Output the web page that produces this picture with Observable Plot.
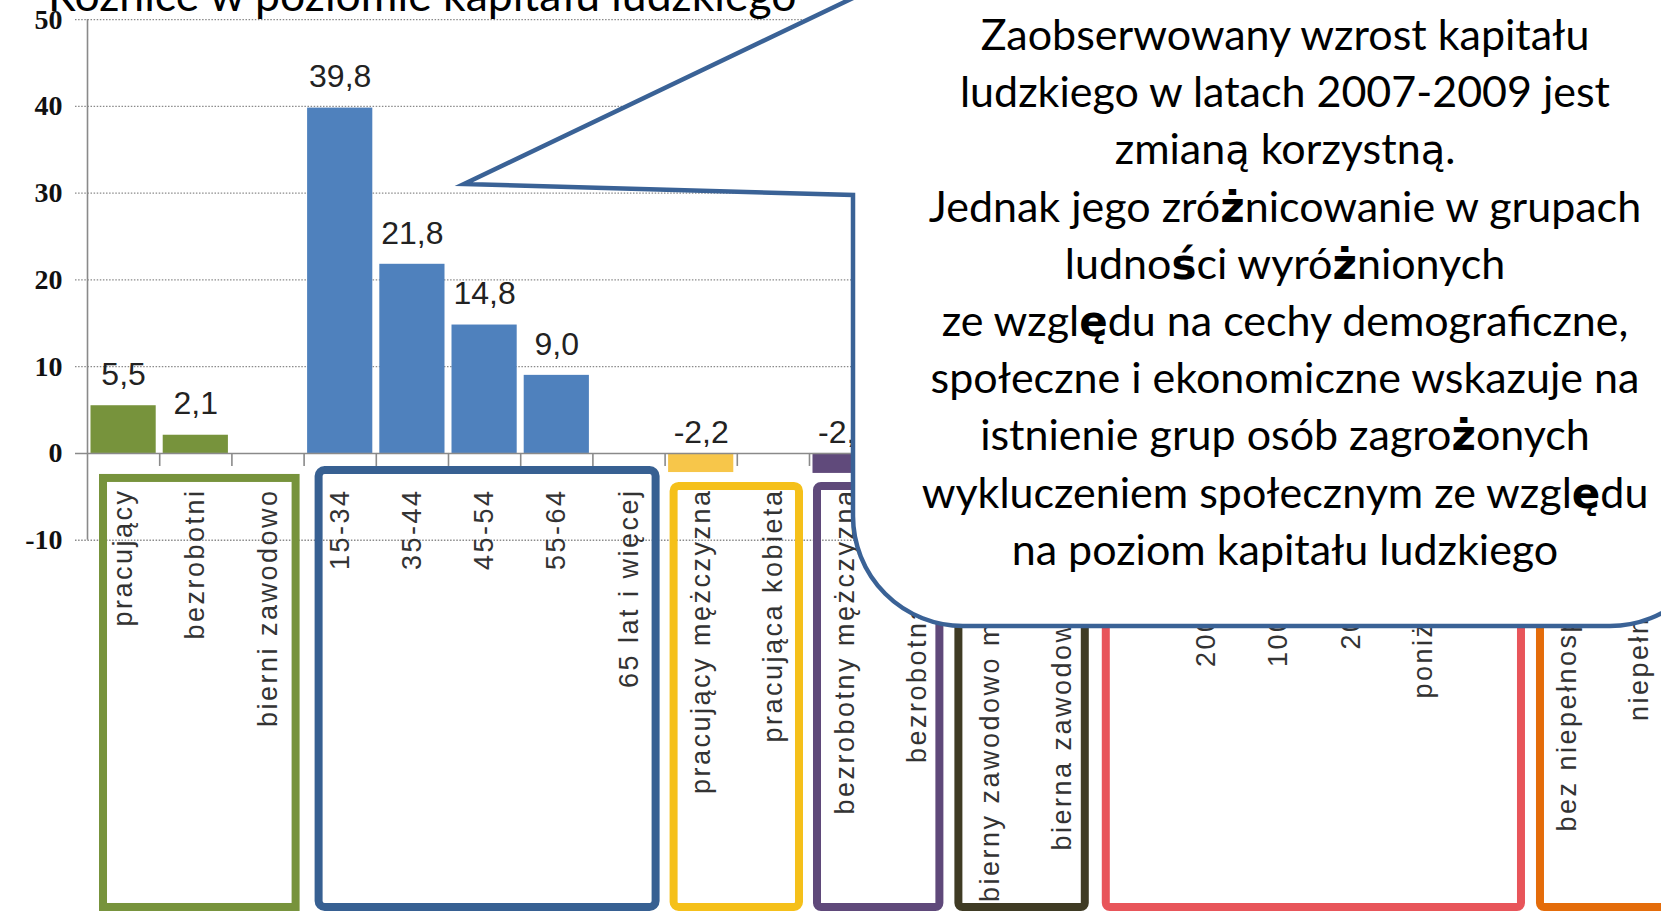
<!DOCTYPE html>
<html><head><meta charset="utf-8">
<script src="https://cdn.jsdelivr.net/npm/d3@7"></script>
<script src="https://cdn.jsdelivr.net/npm/@observablehq/plot@0.6"></script>
<style>
html,body{margin:0;padding:0;background:#fff;overflow:hidden;}
#wrap{position:relative;width:1661px;height:912px;overflow:hidden;background:#fff;}
#wrap svg.overlay{position:absolute;left:0;top:0;}
</style></head><body><div id="wrap"></div>
<script>
// ---------- data ----------
const categories = [
  "pracujący", "bezrobotni", "bierni zawodowo",
  "15-34", "35-44", "45-54", "55-64", "65 lat i więcej",
  "pracujący mężczyzna", "pracująca kobieta",
  "bezrobotny mężczyzna", "bezrobotna kobieta",
  "bierny zawodowo mężczyzna", "bierna zawodowo kobieta",
  ">500 tys.", "200-500 tys.", "100-200 tys.", "20-100 tys.", "poniżej 20 tys.", "wieś",
  "bez niepełnosprawności", "niepełnosprawni"
];
const values = [5.5, 2.1, null, 39.8, 21.8, 14.8, 9.0, null, -2.2, null, -2.3,
  null, null, null, null, null, null, null, null, null, null, null];
const groupNames = ["status", "wiek", "pracujący wg płci", "bezrobotni wg płci", "bierni wg płci", "miejscowość", "niepełnosprawność"];
const groupFirst = [0, 3, 8, 10, 12, 14, 20];
const groupLast  = [2, 7, 9, 11, 13, 19, 21];
const yTicks = [-10, 0, 10, 20, 30, 40, 50];
const title = "Różnice w poziomie kapitału ludzkiego";
const calloutLines = [
  "Zaobserwowany wzrost kapitału",
  "ludzkiego w latach 2007-2009 jest",
  "zmianą korzystną.",
  "Jednak jego zróżnicowanie w grupach",
  "ludności wyróżnionych",
  "ze względu na cechy demograficzne,",
  "społeczne i ekonomiczne wskazuje na",
  "istnienie grup osób zagrożonych",
  "wykluczeniem społecznym ze względu",
  "na poziom kapitału ludzkiego"
];

// ---------- styles ----------
const barColors = ["#77933c", "#4f81bd", "#f7c64a", "#604a7b", "#494429", "#e8555a", "#e46c0a"];
const boxColors = ["#77933c", "#376092", "#f5c01a", "#5f497a", "#3f3b24", "#e8555a", "#e46c0a"];
const boxInsets = [
  {l: 16, r: 8, t: 25, rx: 0},
  {l: 15, r: 9, t: 17, rx: 6},
  {l: 9, r: 10, t: 33, rx: 5},
  {l: 8, r: 14, t: 33, rx: 4},
  {l: 5, r: 13, t: 33, rx: 4},
  {l: 8, r: 10, t: 33, rx: 4},
  {l: 9, r: -40, t: 33, rx: 4}
];
const BAND = 72.2, TICK = 12, MARGIN_LEFT = 75;
const Y_DOMAIN = [-52.9, 52.2];

const groupOf = categories.map((c, i) => groupFirst.findIndex((f, k) => i >= f && i <= groupLast[k]));
const data = categories.map((name, i) => ({i, name, value: values[i], g: groupOf[i]}));
const fmt = v => v.toFixed(1).replace(".", ",");
const boxes = groupNames.map((name, k) => ({k, name, x1: groupFirst[k], x2: groupLast[k] + 1}));

const plot = Plot.plot({
  width: MARGIN_LEFT + TICK + categories.length * BAND,
  height: 912,
  marginLeft: MARGIN_LEFT, marginRight: 0, marginTop: 0, marginBottom: 0,
  style: {maxWidth: "none", overflow: "visible", background: "white"},
  x: {type: "linear", domain: [-TICK / BAND, categories.length], axis: null},
  y: {domain: Y_DOMAIN, axis: null},
  marks: [
    Plot.ruleY(yTicks.filter(t => t !== 0), {stroke: "#8a8a8a", strokeWidth: 1.3, strokeDasharray: "1.5,1.6"}),
    ...boxes.map(b => Plot.rect([b], {
      x1: "x1", x2: "x2", y1: 0, y2: Y_DOMAIN[0],
      fill: "none", stroke: boxColors[b.k], strokeWidth: 8,
      insetLeft: boxInsets[b.k].l, insetRight: boxInsets[b.k].r,
      insetTop: boxInsets[b.k].t, insetBottom: 5, rx: boxInsets[b.k].rx
    })),
    Plot.rectY(data.filter(d => d.value != null), {
      x1: d => d.i, x2: d => d.i + 1, y1: 0, y2: "value",
      fill: d => barColors[d.g], insetLeft: 3.5, insetRight: 3.5
    }),
    Plot.ruleY([0], {stroke: "#8a8a8a", strokeWidth: 1.6}),
    Plot.ruleX([0], {y1: -10, y2: 50, stroke: "#8a8a8a", strokeWidth: 1.6}),
    Plot.ruleX(d3.range(1, categories.length + 1), {y1: 0, y2: -1.5, stroke: "#8a8a8a", strokeWidth: 1.6}),
    Plot.text(yTicks, {
      x: -TICK / BAND, y: d => d, text: d => String(d), textAnchor: "end", dx: -13,
      fontFamily: "Liberation Serif", fontWeight: "bold", fontSize: 28, fill: "#111"
    }),
    Plot.text(data, {
      x: d => d.i + 0.5, y: 0, text: "name", rotate: -90, textAnchor: "end", dy: 35,
      fontFamily: "Liberation Sans", fontSize: 27, fill: "#333"
    }),
    Plot.text(data.filter(d => d.value != null && d.value >= 0), {
      x: d => d.i + 0.5, y: "value", text: d => fmt(d.value), dy: -31,
      fontFamily: "Liberation Sans", fontSize: 32, fill: "#222"
    }),
    Plot.text(data.filter(d => d.value != null && d.value < 0), {
      x: d => d.i + 0.5, y: 0, text: d => fmt(d.value), dy: -21,
      fontFamily: "Liberation Sans", fontSize: 32, fill: "#222"
    })
  ]
});
// rotated category labels are letter-spaced in the original
d3.select(plot).selectAll("g, text")
  .filter(function() { return /rotate\(-90/.test(this.getAttribute("transform") || ""); })
  .attr("letter-spacing", 2.5);

const wrap = document.getElementById("wrap");
wrap.appendChild(plot);

// ---------- callout overlay ----------
const ov = d3.select(wrap).append("svg").attr("class", "overlay")
  .attr("width", 1661).attr("height", 912);
const FONT = "Lato";
ov.append("text").attr("x", 48).attr("y", 11)
  .attr("font-family", FONT).attr("font-size", 44.5).attr("fill", "#000").text(title);
ov.append("path")
  .attr("d", "M853,-20 L853,-2 L464,184 L853,195 L853,516 A110,110 0 0 0 963,626 L1610,626 A110,110 0 0 0 1720,516 L1720,-20 Z")
  .attr("fill", "#fff").attr("stroke", "#3a6296").attr("stroke-width", 4.5)
  .attr("stroke-miterlimit", 10);
const tx = ov.append("text").attr("font-family", FONT).attr("font-size", 43)
  .attr("fill", "#000").attr("text-anchor", "middle");
calloutLines.forEach((line, j) => {
  const t = tx.append("tspan").attr("x", 1285).attr("y", 50 + j * 57.2);
  // some Polish letters appear in a wider, bolder fallback face in the original
  line.split(/([żśęą])/).forEach(part => {
    if (!part) return;
    const s = t.append("tspan").text(part);
    if (/^[żśę]$/.test(part)) s.attr("font-family", "DejaVu Sans").attr("font-weight", "bold").attr("font-size", 42);
    else if (part === "ą") s.attr("font-family", "DejaVu Sans").attr("font-size", 40);
  });
});
</script></body></html>
